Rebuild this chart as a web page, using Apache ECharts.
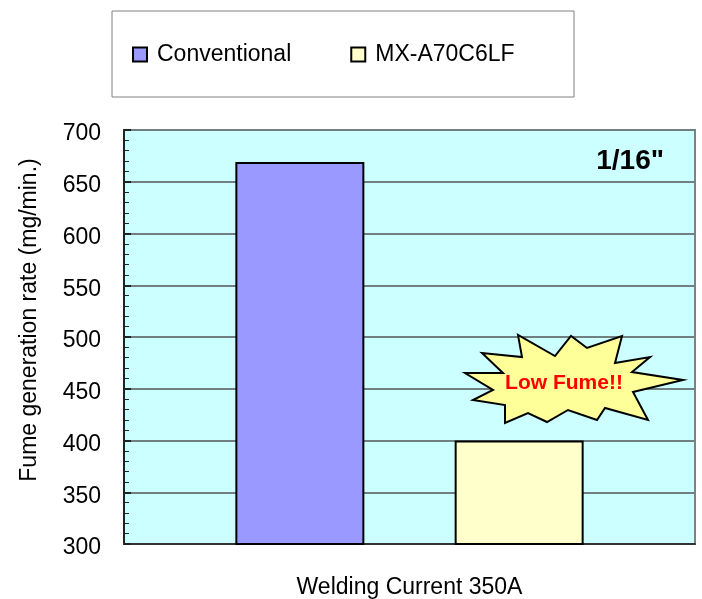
<!DOCTYPE html>
<html>
<head>
<meta charset="utf-8">
<script src="https://cdn.jsdelivr.net/npm/echarts@6/dist/echarts.min.js"></script>
<style>
  html, body { margin: 0; padding: 0; background: #fff; }
  #chart { width: 702px; height: 599px; }
</style>
</head>
<body>
<div id="chart"></div>
<script>
const categories = ["Welding Current 350A"];
const seriesNames = ["Conventional", "MX-A70C6LF"];
const conventional = [669];
const mxA70C6LF = [400];
const yTicks = { min: 300, max: 700, step: 50 };

// starburst outline, offsets from its centre
const burst = [
  [-110, -7], [-72, -7], [-93, -27], [-53, -23], [-57, -45], [-20, -24],
  [-4, -44], [12, -32], [47, -44], [40, -17], [75, -23], [57, -8],
  [108, 0], [58, 12], [73, 40], [30, 28], [22, 40], [-7, 30],
  [-28, 42], [-47, 33], [-70, 43], [-70, 25], [-102, 20], [-82, 10]
];
const burstCenter = [575, 380];

const chart = echarts.init(document.getElementById("chart"));
const font = "Arial, 'Liberation Sans', sans-serif";

const option = {
  animation: false,
  textStyle: { fontFamily: font },
  grid: {
    left: 124,
    right: 7,
    top: 130,
    bottom: 54,
    show: true,
    backgroundColor: "#CCFFFF",
    borderColor: "#808080",
    borderWidth: 2,
  },
  legend: {
    left: 127,
    top: 38,
    itemWidth: 14,
    itemHeight: 14,
    itemGap: 59,
    icon: "rect",
    textStyle: { fontSize: 23, color: "#000", fontFamily: font, padding: [0, 0, 0, 5] },
    data: seriesNames,
  },
  xAxis: {
    type: "category",
    data: categories,
    axisLine: { lineStyle: { color: "#333", width: 2 } },
    axisTick: {
      alignWithLabel: true,
      inside: true,
      length: 6,
      lineStyle: { color: "#555", width: 1 },
    },
    axisLabel: { fontSize: 23, color: "#000", margin: 32 },
  },
  yAxis: {
    type: "value",
    min: yTicks.min,
    max: yTicks.max,
    interval: yTicks.step,
    name: "Fume generation rate (mg/min.)",
    nameLocation: "middle",
    nameGap: 83,
    nameTextStyle: { fontSize: 23, color: "#000", padding: [0, 0, 0, 34] },
    axisLine: { show: true, lineStyle: { color: "#222", width: 2 } },
    axisTick: { show: true, inside: true, length: 7, lineStyle: { color: "#222", width: 2 } },
    minorTick: { show: true, splitNumber: 5, length: 5, lineStyle: { color: "#222", width: 1 } },
    axisLabel: {
      color: "#000",
      margin: 23,
      formatter: "{v|{value}}",
      rich: { v: { fontSize: 23, color: "#000", fontFamily: font, padding: [8, 0, 0, 0] } },
    },
    splitLine: { lineStyle: { color: "#708080", width: 2 } },
  },
  series: [
    {
      name: seriesNames[0],
      type: "bar",
      data: conventional,
      barWidth: 129,
      barGap: "70%",
      itemStyle: { color: "#9999FF", borderColor: "#000", borderWidth: 2 },
    },
    {
      name: seriesNames[1],
      type: "bar",
      data: mxA70C6LF,
      barWidth: 129,
      itemStyle: { color: "#FFFFCC", borderColor: "#000", borderWidth: 2 },
    },
  ],
  graphic: [
    {
      type: "rect",
      shape: { x: 112, y: 11, width: 462, height: 86 },
      style: { fill: "#fff", stroke: "#808080", lineWidth: 1 },
      z: -1,
    },
    {
      type: "text",
      x: 664,
      y: 161,
      style: {
        text: '1/16"',
        fontSize: 28,
        fontWeight: "bold",
        fontFamily: font,
        fill: "#000",
        align: "right",
        verticalAlign: "middle",
      },
      z: 10,
    },
    {
      type: "polygon",
      x: burstCenter[0],
      y: burstCenter[1],
      shape: { points: burst },
      style: { fill: "#FFFF99", stroke: "#000", lineWidth: 2 },
      z: 10,
    },
    {
      type: "text",
      x: 564,
      y: 383,
      style: {
        text: "Low Fume!!",
        fontSize: 21,
        fontWeight: "bold",
        fontFamily: font,
        fill: "#FF0000",
        align: "center",
        verticalAlign: "middle",
      },
      z: 11,
    },
  ],
};

chart.setOption(option);
</script>
</body>
</html>
